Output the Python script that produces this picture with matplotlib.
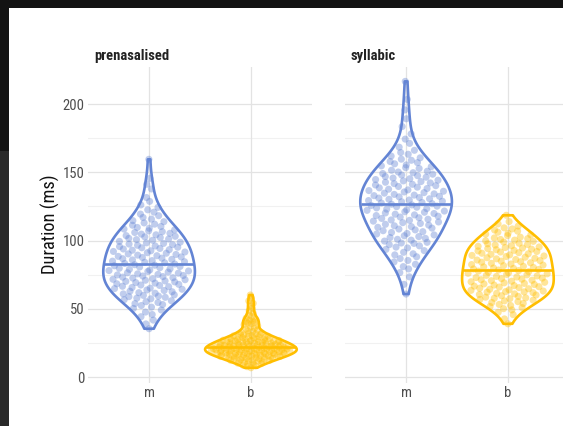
import numpy as np
import matplotlib
matplotlib.use("Agg")
import matplotlib.pyplot as plt
from matplotlib import font_manager
from matplotlib.patches import Rectangle

# ---- data -------------------------------------------------------------
facets = ["prenasalised", "syllabic"]
consonants = ["m", "b"]

prenasalised_m = [
    35.4, 38.9, 41.7, 44.2, 45.8, 47.6, 49.1,
    50.3, 51.2, 52.4, 53.1, 53.8, 54.6,
    55.2, 55.9, 56.7, 57.3, 57.8, 58.4, 58.9, 59.3, 59.8,
    60.2, 60.9, 61.4, 61.8, 62.5, 62.9, 63.4, 63.8, 64.3, 64.8,
    65.1, 65.6, 66.2, 66.5, 67.1, 67.4, 67.9, 68.3, 68.8, 69.2, 69.7,
    70.1, 70.4, 70.9, 71.3, 71.6, 72.0, 72.5, 72.8, 73.2, 73.6, 74.0, 74.4, 74.8,
    75.2, 75.6, 76.1, 76.4, 76.9, 77.3, 77.7, 78.0, 78.4, 78.9, 79.3, 79.7,
    80.1, 80.6, 81.0, 81.5, 81.9, 82.3, 82.8, 83.2, 83.7, 84.1, 84.5, 84.9,
    85.3, 85.8, 86.2, 86.7, 87.1, 87.6, 88.0, 88.4, 88.9, 89.3, 89.8,
    90.2, 90.7, 91.1, 91.6, 92.0, 92.5, 92.9, 93.3, 93.8, 94.2, 94.7,
    95.1, 95.6, 96.0, 96.5, 97.0, 97.4, 97.9, 98.3, 98.8, 99.4,
    100.2, 100.7, 101.1, 101.6, 102.2, 102.7, 103.1, 103.6, 104.2, 104.7,
    105.3, 105.9, 106.5, 107.1, 107.8, 108.4, 109.0, 109.6,
    110.3, 111.2, 112.0, 112.9, 113.8, 114.6,
    115.7, 116.9, 118.2, 119.4, 120.8, 122.5, 124.3, 126.1, 128.7,
    131.5, 137.8, 141.2, 145.6, 159.5,
]

prenasalised_b = [
    6.8, 7.6, 8.2, 8.7, 9.1, 9.5, 9.9,
    10.2, 10.5, 10.9, 11.2, 11.4, 11.7, 11.9,
    12.1, 12.3, 12.6, 12.8, 13.0, 13.2, 13.4, 13.6, 13.8, 13.9,
    14.1, 14.2, 14.4, 14.6, 14.7, 14.9, 15.1, 15.2, 15.4, 15.5, 15.7, 15.8, 15.9,
    16.0, 16.1, 16.3, 16.4, 16.5, 16.7, 16.8, 16.9, 17.0, 17.1, 17.3, 17.4,
    17.5, 17.7, 17.8, 17.9,
    18.0, 18.1, 18.2, 18.3, 18.5, 18.6, 18.7, 18.8, 18.9, 19.0, 19.1, 19.2,
    19.3, 19.4, 19.6, 19.7, 19.8, 19.9,
    20.0, 20.1, 20.2, 20.3, 20.4, 20.5, 20.6, 20.7, 20.8, 20.9, 21.0, 21.1,
    21.2, 21.3, 21.4, 21.5, 21.7, 21.8, 21.9,
    22.0, 22.1, 22.2, 22.4, 22.5, 22.6, 22.7, 22.9, 23.0, 23.1, 23.2, 23.3,
    23.5, 23.6, 23.7, 23.8, 23.9,
    24.0, 24.2, 24.3, 24.5, 24.6, 24.8, 24.9, 25.0, 25.2, 25.3, 25.5, 25.6,
    25.7, 25.9, 25.95,
    26.1, 26.3, 26.5, 26.6, 26.8, 27.0, 27.1, 27.3, 27.5, 27.6, 27.8, 27.9,
    28.1, 28.4, 28.6, 28.8, 29.0, 29.3, 29.5, 29.7, 29.9,
    30.2, 30.5, 30.8, 31.1, 31.4, 31.7, 31.9,
    32.3, 32.8, 33.4, 33.9, 34.4, 35.1, 35.8,
    36.6, 37.5, 38.3, 39.0, 39.6, 40.2, 40.7, 41.1, 41.6, 42.3, 43.1, 44.2,
    45.3, 46.8, 48.5, 50.4, 52.1, 54.0, 55.8, 57.9, 60.1,
]

syllabic_m = [
    60.8, 67.9, 73.4, 76.5, 79.2, 80.9, 82.6, 84.3,
    85.4, 86.8, 88.1, 89.5, 90.3, 91.4, 92.6, 93.5, 94.6,
    95.2, 96.1, 97.0, 97.9, 98.2, 98.7, 99.6,
    100.3, 100.9, 101.6, 102.2, 102.9, 103.5, 104.1, 104.8,
    105.2, 105.9, 106.5, 107.2, 107.8, 108.4, 109.1, 109.7,
    110.2, 110.8, 111.3, 111.9, 112.5, 113.1, 113.6, 114.2, 114.8,
    115.1, 115.6, 116.2, 116.7, 117.2, 117.8, 118.3, 118.8, 119.3, 119.8,
    120.2, 120.7, 121.1, 121.6, 122.1, 122.5, 123.0, 123.4, 123.9, 124.4, 124.8,
    125.2, 125.7, 126.1, 126.6, 127.0, 127.5, 127.9, 128.4, 128.8, 129.3, 129.7,
    130.2, 130.6, 131.1, 131.5, 132.0, 132.4, 132.9, 133.3, 133.8, 134.2, 134.7,
    135.1, 135.6, 136.1, 136.6, 137.1, 137.6, 138.1, 138.6, 139.1, 139.6,
    140.2, 140.7, 141.2, 141.7, 142.2, 142.7, 143.2, 143.7, 144.2, 144.7,
    145.3, 145.8, 146.4, 146.9, 147.5, 148.0, 148.6, 149.1, 149.7,
    150.2, 150.8, 151.5, 152.8, 153.4, 154.1, 154.7,
    155.4, 156.2, 157.1, 157.9, 158.8, 159.6,
    160.6, 161.9, 163.2, 164.5, 166.1, 168.4,
    171.2, 174.3, 178.1, 183.5, 189.2, 195.7, 203.4, 216.6,
]

syllabic_b = [
    39.0, 42.6, 45.7, 47.4, 49.2,
    50.1, 50.9, 51.7, 52.4, 53.2, 53.9, 54.6,
    55.2, 55.8, 56.3, 56.9, 57.4, 57.7, 58.0, 58.5, 59.1, 59.6,
    60.1, 60.5, 60.9, 61.3, 61.8, 62.2, 62.4, 62.6, 63.0, 63.5, 63.9, 64.3, 64.7,
    65.1, 65.5, 65.9, 66.2, 66.6, 67.0, 67.4, 67.8, 68.2, 68.6, 69.0, 69.4, 69.8,
    70.2, 70.6, 70.9, 71.3, 71.7, 72.1, 72.5, 72.9, 73.3, 73.7, 74.1, 74.5, 74.9,
    75.2, 75.6, 76.0, 76.4, 76.8, 77.2, 77.6, 78.0, 78.4, 78.8, 79.2, 79.6, 79.9,
    80.3, 80.7, 81.1, 81.6, 82.0, 82.4, 82.8, 83.3, 83.7, 84.1, 84.5, 84.9,
    85.3, 85.7, 86.1, 86.6, 87.0, 87.4, 87.8, 88.3, 88.7, 89.1, 89.5, 89.9,
    90.3, 90.7, 91.1, 91.6, 92.0, 92.4, 92.8, 93.3, 93.7, 94.1, 94.5, 94.9,
    95.3, 95.8, 96.2, 96.7, 97.1, 97.6, 98.0, 98.9, 99.4, 99.8,
    100.3, 100.8, 101.4, 101.9, 102.5, 103.6, 104.1, 104.7,
    105.3, 106.1, 106.9, 107.7, 108.5, 109.3,
    110.6, 112.2, 113.9, 118.5,
]

durations = {
    ("prenasalised", "m"): prenasalised_m,
    ("prenasalised", "b"): prenasalised_b,
    ("syllabic", "m"): syllabic_m,
    ("syllabic", "b"): syllabic_b,
}

y_major = [0, 50, 100, 150, 200]
y_minor = [25, 75, 125, 175]
y_label = "Duration (ms)"

# ---- style ------------------------------------------------------------
colours = {"m": "#6384d4", "b": "#ffbe00"}
_names = {f.name for f in font_manager.fontManager.ttflist}
base_font = "Roboto Condensed" if "Roboto Condensed" in _names else "Roboto"
plt.rcParams["font.family"] = [base_font, "DejaVu Sans"]

W, H = 563, 426
fig = plt.figure(figsize=(W / 100, H / 100), dpi=100)
fig.patch.set_facecolor("white")


def kde_profile(vals, grid):
    v = np.asarray(vals, float)
    n = len(v)
    sd = v.std(ddof=1)
    q75, q25 = np.percentile(v, [75, 25])
    bw = 0.9 * min(sd, (q75 - q25) / 1.34) * n ** -0.2
    d = np.exp(-0.5 * ((grid[:, None] - v[None, :]) / bw) ** 2).sum(axis=1)
    return d / d.max()


def van_der_corput(k, b=2):
    q, denom = 0.0, 1.0
    while k:
        denom *= b
        k, r = divmod(k, b)
        q += r / denom
    return q


half_width = 0.45
panel_left = [88, 345]
panel_w = 224
panel_top, panel_bottom = 66.5, 382.5

for fi, facet in enumerate(facets):
    ax = fig.add_axes([panel_left[fi] / W, 1 - panel_bottom / H,
                       panel_w / W, (panel_bottom - panel_top) / H])
    ax.set_xlim(0.4, 2.6)
    ax.set_ylim(-4, 227.5)
    for y in y_minor:
        ax.axhline(y, color="#f1f1f1", lw=0.8, zorder=0)
    for y in y_major:
        ax.axhline(y, color="#e3e3e3", lw=0.9, zorder=0)
    for xi in range(len(consonants)):
        ax.axvline(xi + 1, color="#e3e3e3", lw=0.9, zorder=0)

    for ci, cons in enumerate(consonants):
        vals = np.asarray(durations[(facet, cons)], float)
        centre = ci + 1
        col = colours[cons]
        grid = np.linspace(vals.min(), vals.max(), 512)
        dens = kde_profile(vals, grid)

        # quasirandom horizontal spread of the points, scaled by density
        order = np.argsort(vals)
        offs = np.zeros(len(vals))
        for rank, idx in enumerate(order):
            u = van_der_corput(rank + 1) * 2 - 1
            offs[idx] = u * 0.40 * np.interp(vals[idx], grid, dens)
        ax.scatter(centre + offs, vals, s=26, color=col, alpha=0.4,
                   edgecolors="none", zorder=2)

        xs = np.concatenate([centre - half_width * dens,
                             (centre + half_width * dens)[::-1]])
        ys = np.concatenate([grid, grid[::-1]])
        ax.fill(xs, ys, facecolor="none", edgecolor=col, lw=1.9,
                joinstyle="round", zorder=3)

        med = np.median(vals)
        ax.plot([centre - 0.44, centre + 0.44], [med, med], color=col,
                lw=1.9, solid_capstyle="butt", zorder=4)

    ax.set_xticks([1, 2])
    ax.set_xticklabels(consonants)
    ax.set_yticks(y_major)
    if fi == 0:
        ax.set_yticklabels([str(v) for v in y_major])
        ax.set_ylabel(y_label, fontsize=13.2, color="#111111", labelpad=1.5)
    else:
        ax.set_yticklabels([])
    ax.tick_params(length=0, labelsize=10.5, labelcolor="#4d4d4d", pad=2.5)
    for s in ax.spines.values():
        s.set_visible(False)
    ax.set_facecolor("none")
    fig.text((panel_left[fi] + 6) / W, 1 - 56 / H, facet, fontsize=10.5,
             fontweight="bold", color="#222222", va="center", ha="left")

# dark border strips along the top and left edge
fig.patches.append(Rectangle((0, 1 - 8 / H), 1, 8 / H, transform=fig.transFigure,
                             facecolor="#131313", edgecolor="none", zorder=10))
fig.patches.append(Rectangle((0, 1 - 151 / H), 9 / W, 151 / H, transform=fig.transFigure,
                             facecolor="#131313", edgecolor="none", zorder=10))
fig.patches.append(Rectangle((0, 0), 9 / W, 1 - 151 / H, transform=fig.transFigure,
                             facecolor="#292929", edgecolor="none", zorder=10))

fig.savefig("out.png", dpi=100)
